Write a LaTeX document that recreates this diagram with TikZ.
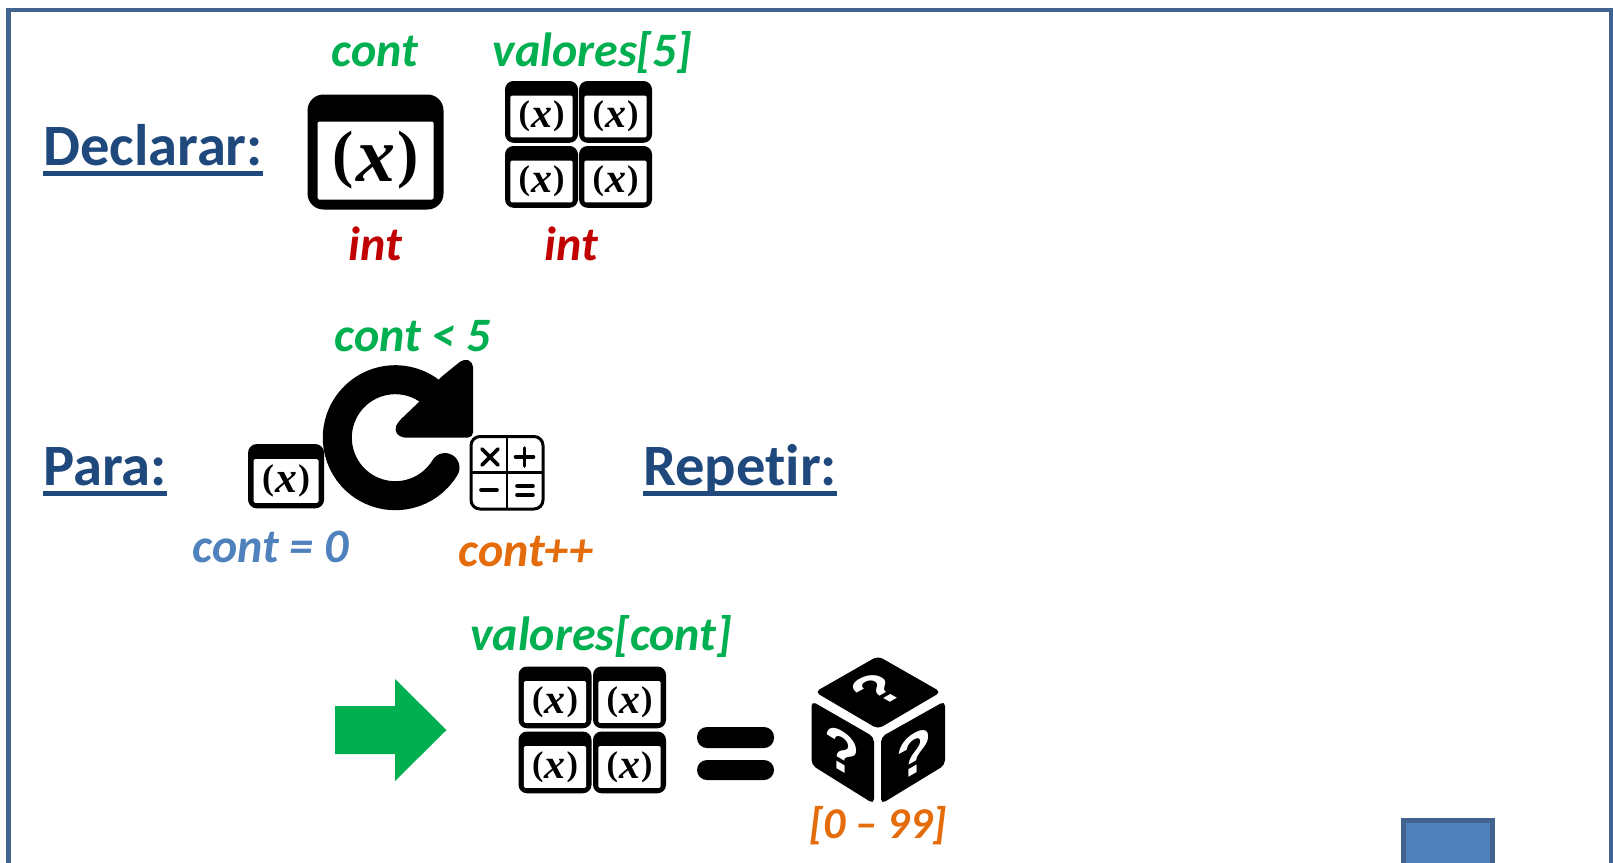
\documentclass[tikz,border=0pt]{standalone}
\usepackage{fontspec}
\setmainfont[Ligatures=NoCommon]{Carlito}
\newfontfamily\serifx{Liberation Serif}
\newfontfamily\helv{Liberation Sans}
\definecolor{gr}{HTML}{00B050}
\definecolor{rd}{HTML}{C00000}
\definecolor{bl}{HTML}{4F81BD}
\definecolor{og}{HTML}{E46C0A}
\definecolor{hd}{HTML}{1F497D}
\definecolor{fr}{HTML}{41648F}
\tikzset{
  x=1pt,y=-1pt,
  heading/.style={inner sep=0pt,anchor=base west,text=hd,font=\fontsize{58.6}{60}\selectfont\bfseries},
  hul/.style={hd,line width=5pt},
  lab/.style={inner sep=0pt,anchor=base,font=\fontsize{48}{50}\selectfont\bfseries\itshape},
  face/.style={fill=black,rounded corners=5pt,draw=none},
  qm/.style={inner sep=0pt,text=white,transform shape,font=\fontsize{58}{58}\selectfont\helv\bfseries},
  calcline/.style={black,line width=3.6pt,line cap=round},
  pics/varicon/.style={code={
    \fill[black,rounded corners=#1 pt] (0,0) rectangle (136,115);
    \fill[white,rounded corners=1.5pt] (10,27) rectangle (126,105);
    \node[inner sep=0pt,transform shape,font=\fontsize{64}{64}\selectfont\serifx\bfseries] (-t) at (68,66) {(\kern2pt\raisebox{-6pt}{\fontsize{78}{78}\selectfont\textit{x}}\kern2pt)};
  }}
}
\begin{document}
\begin{tikzpicture}
\useasboundingbox (0,0) rectangle (1613,862);
\fill[white] (0,0) rectangle (1613,862);
\begin{scope}
\clip (0,0) rectangle (1613,862);
\coordinate (fa) at (8.5,10);
\coordinate (fb) at (1611.5,880);
\draw[fr,line width=4.5pt] (fa) rectangle (fb);
\coordinate (ba) at (1403.5,820);
\coordinate (bb) at (1492.5,880);
\draw[fr,fill=bl,line width=5pt] (ba) rectangle (bb);
\end{scope}

\node[heading] (decl) at (43,165) {Declarar:};
\draw[hul] ([yshift=-8pt]decl.base west) -- ([yshift=-8pt]decl.base east);
\node[heading] (para) at (43,485) {Para:};
\draw[hul] ([yshift=-8pt]para.base west) -- ([yshift=-8pt]para.base east);
\node[heading] (rep) at (643,485) {Repetir:};
\draw[hul] ([yshift=-8pt]rep.base west) -- ([yshift=-8pt]rep.base east);

\node[lab,text=gr] (l1) at (375,66) {cont};
\node[lab,text=gr] (l2) at (592.5,66) {valores[5]};
\node[lab,text=rd] (l3) at (375,260) {int};
\node[lab,text=rd] (l4) at (571,260) {int};
\node[lab,text=gr] (l5) at (413,351) {cont < 5};
\node[lab,text=bl] (l6) at (271,562) {cont = 0};
\node[lab,text=og] (l7) at (526,566) {cont++};
\node[lab,text=gr] (l8) at (601,650) {valores[cont]};
\node[lab,text=og,font=\fontsize{44}{46}\selectfont\bfseries\itshape] (l9) at (878,838) {[0 – 99]};

\pic (v0) at (307.5,94.5) {varicon=16};
\foreach \n/\xx/\yy in {a/505/81,b/579/81,c/505/146,d/579/146}
  \pic[scale=.537,transform shape] (g\n) at (\xx,\yy) {varicon=8.5};
\foreach \n/\xx/\yy in {a/518.5/666.5,b/593/666.5,c/518.5/731.5,d/593/731.5}
  \pic[scale=.537,transform shape] (h\n) at (\xx,\yy) {varicon=8.5};
\pic[scale=.56,transform shape] (v1) at (248,444) {varicon=9};

% loop arrow
\coordinate (lc) at (395.3,437.7);
\draw[black,line width=29pt,line cap=round] (lc) ++(-31:58pt) arc[start angle=-31,end angle=-315,radius=58pt];
\fill[black,rounded corners=5pt] (440,378) -- (464,358.5) -- (473,362) -- (473,437.5) -- (400,437.5) -- (394,430) -- (398,422) -- (420,401) -- cycle;

% calculator
\coordinate (ca) at (471,436.5);
\coordinate (cb) at (543,509);
\draw[black,line width=3pt,rounded corners=9pt] (ca) rectangle (cb);
\draw[black,line width=2.6pt] (507,436.5) -- (507,509);
\draw[black,line width=2.6pt] (471,472.7) -- (543,472.7);
\draw[calcline] (482,449) -- (498,465);
\draw[calcline] (498,449) -- (482,465);
\draw[calcline] (515.5,457) -- (533.5,457);
\draw[calcline] (524.5,448) -- (524.5,466);
\draw[calcline] (481,490) -- (497,490);
\draw[calcline] (517,486) -- (533,486);
\draw[calcline] (517,495) -- (533,495);

% green arrow
\fill[gr] (335,706) -- (395,706) -- (395,679) -- (446.5,730) -- (395,781) -- (395,754) -- (335,754) -- cycle;

% equals
\fill[black,rounded corners=10pt] (697,727) rectangle (774,748);
\fill[black,rounded corners=10pt] (697,760) rectangle (774,780);

% dice
\fill[face] (878,656) -- (941,692) -- (878,729) -- (815,692) -- cycle;
\fill[face] (811.5,701) -- (874,737) -- (874,804) -- (811.5,765) -- cycle;
\fill[face] (945,701) -- (881,737) -- (881,804) -- (945,765) -- cycle;
\node[qm,cm={.87,.5,-.87,.5,(0,0)}] (q1) at (877,690) {?};
\node[qm,cm={1,-.58,0,1,(0,0)}] (q2) at (842,752) {?};
\node[qm,cm={1,.58,0,1,(0,0)}] (q3) at (914,754) {?};
\end{tikzpicture}
\end{document}
